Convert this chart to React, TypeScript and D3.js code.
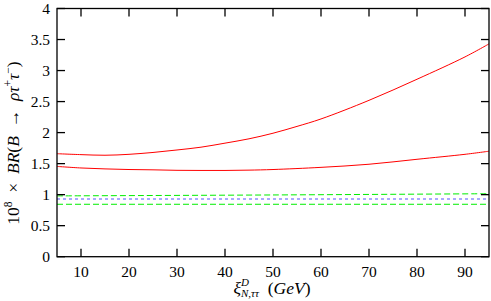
import React from "react";
import * as d3 from "d3";

const xTicks = [10, 20, 30, 40, 50, 60, 70, 80, 90];
const yTicks = [0, 0.5, 1, 1.5, 2, 2.5, 3, 3.5, 4];
const yTickLabels = ["0", "0.5", "1", "1.5", "2", "2.5", "3", "3.5", "4"];

const upperX = [5, 10, 15, 20, 25, 30, 35, 40, 45, 50, 55, 60, 70, 80, 90, 95];
const upperY = [1.66, 1.645, 1.635, 1.65, 1.68, 1.72, 1.765, 1.83, 1.9, 1.99, 2.1, 2.22, 2.52, 2.86, 3.22, 3.43];

const lowerX = [5, 10, 15, 20, 25, 30, 35, 40, 45, 50, 60, 70, 80, 90, 95];
const lowerY = [1.455, 1.43, 1.415, 1.405, 1.4, 1.392, 1.39, 1.39, 1.395, 1.405, 1.44, 1.49, 1.57, 1.65, 1.7];

const greenUpX = [5, 50, 95];
const greenUpY = [0.98, 0.995, 1.015];
const blueX = [5, 95];
const blueY = [0.93, 0.93];
const greenLowX = [5, 95];
const greenLowY = [0.845, 0.845];

const W = 491, H = 301;
const L = 57, R = 489, T = 8.5, B = 256.7;

export default function App() {
  const x = d3.scaleLinear().domain([5, 95]).range([L, R]);
  const y = d3.scaleLinear().domain([0, 4]).range([B, T]);
  const line = d3.line<[number, number]>().x(d => x(d[0])).y(d => y(d[1])).curve(d3.curveCatmullRom.alpha(0.5));
  const pts = (xs: number[], ys: number[]) => xs.map((v, i) => [v, ys[i]] as [number, number]);
  const font = "'Liberation Serif', 'Times New Roman', serif";
  const tl = 8;
  const fs = 15.5;
  const lfs = 17.5;
  return (
    <svg width={W} height={H} style={{ position: "absolute", left: 0, top: 0, background: "#fff" }}>
      <path d={line(pts(upperX, upperY)) || ""} fill="none" stroke="#ff0000" strokeWidth={1} />
      <path d={line(pts(lowerX, lowerY)) || ""} fill="none" stroke="#ff0000" strokeWidth={1} />
      <path d={line(pts(greenUpX, greenUpY)) || ""} fill="none" stroke="#00ee00" strokeWidth={1} strokeDasharray="6,3" />
      <path d={line(pts(blueX, blueY)) || ""} fill="none" stroke="#5555ff" strokeWidth={1.2} strokeDasharray="3,3" />
      <path d={line(pts(greenLowX, greenLowY)) || ""} fill="none" stroke="#00ee00" strokeWidth={1} strokeDasharray="6,3" />
      <rect x={L} y={T} width={R - L} height={B - T} fill="none" stroke="#000" strokeWidth={1.3} />
      {xTicks.map(t => (
        <g key={"x" + t}>
          <line x1={x(t)} x2={x(t)} y1={B} y2={B - tl} stroke="#000" strokeWidth={1.3} />
          <line x1={x(t)} x2={x(t)} y1={T} y2={T + tl} stroke="#000" strokeWidth={1.3} />
          <text x={x(t)} y={277} textAnchor="middle" fontFamily={font} fontSize={fs} fill="#000">{t}</text>
        </g>
      ))}
      {yTicks.map((t, i) => (
        <g key={"y" + t}>
          <line x1={L} x2={L + tl} y1={y(t)} y2={y(t)} stroke="#000" strokeWidth={1.3} />
          <line x1={R} x2={R - tl} y1={y(t)} y2={y(t)} stroke="#000" strokeWidth={1.3} />
          <text x={50} y={y(t) + 5} textAnchor="end" fontFamily={font} fontSize={fs} fill="#000">{yTickLabels[i]}</text>
        </g>
      ))}
      <text transform="translate(19,143) rotate(-90)" textAnchor="middle" fontFamily={font} fontSize={lfs} fill="#000">
        <tspan>10</tspan>
        <tspan fontSize={11.5} dy={-7}>8</tspan>
        <tspan dy={7}>{"\u2002×\u2002"}</tspan>
        <tspan fontStyle="italic">BR</tspan>
        <tspan>(</tspan>
        <tspan fontStyle="italic">B</tspan>
        <tspan>{"\u2002→\u2002"}</tspan>
        <tspan fontStyle="italic">ρτ</tspan>
        <tspan fontSize={11.5} dy={-7}>+</tspan>
        <tspan fontStyle="italic" dy={7}>τ</tspan>
        <tspan fontSize={11.5} dy={-7}>−</tspan>
        <tspan dy={7}>)</tspan>
      </text>
      <text x={272} y={294} textAnchor="middle" fontFamily={font} fontSize={lfs} fill="#000">
        <tspan fontStyle="italic">ξ</tspan>
        <tspan fontStyle="italic" fontSize={11} dy={-8}>D</tspan>
        <tspan fontStyle="italic" fontSize={11} dx={-8} dy={11}>N,ττ</tspan>
        <tspan dy={-3}>{"\u2002("}</tspan>
        <tspan fontStyle="italic">GeV</tspan>
        <tspan>)</tspan>
      </text>
    </svg>
  );
}
